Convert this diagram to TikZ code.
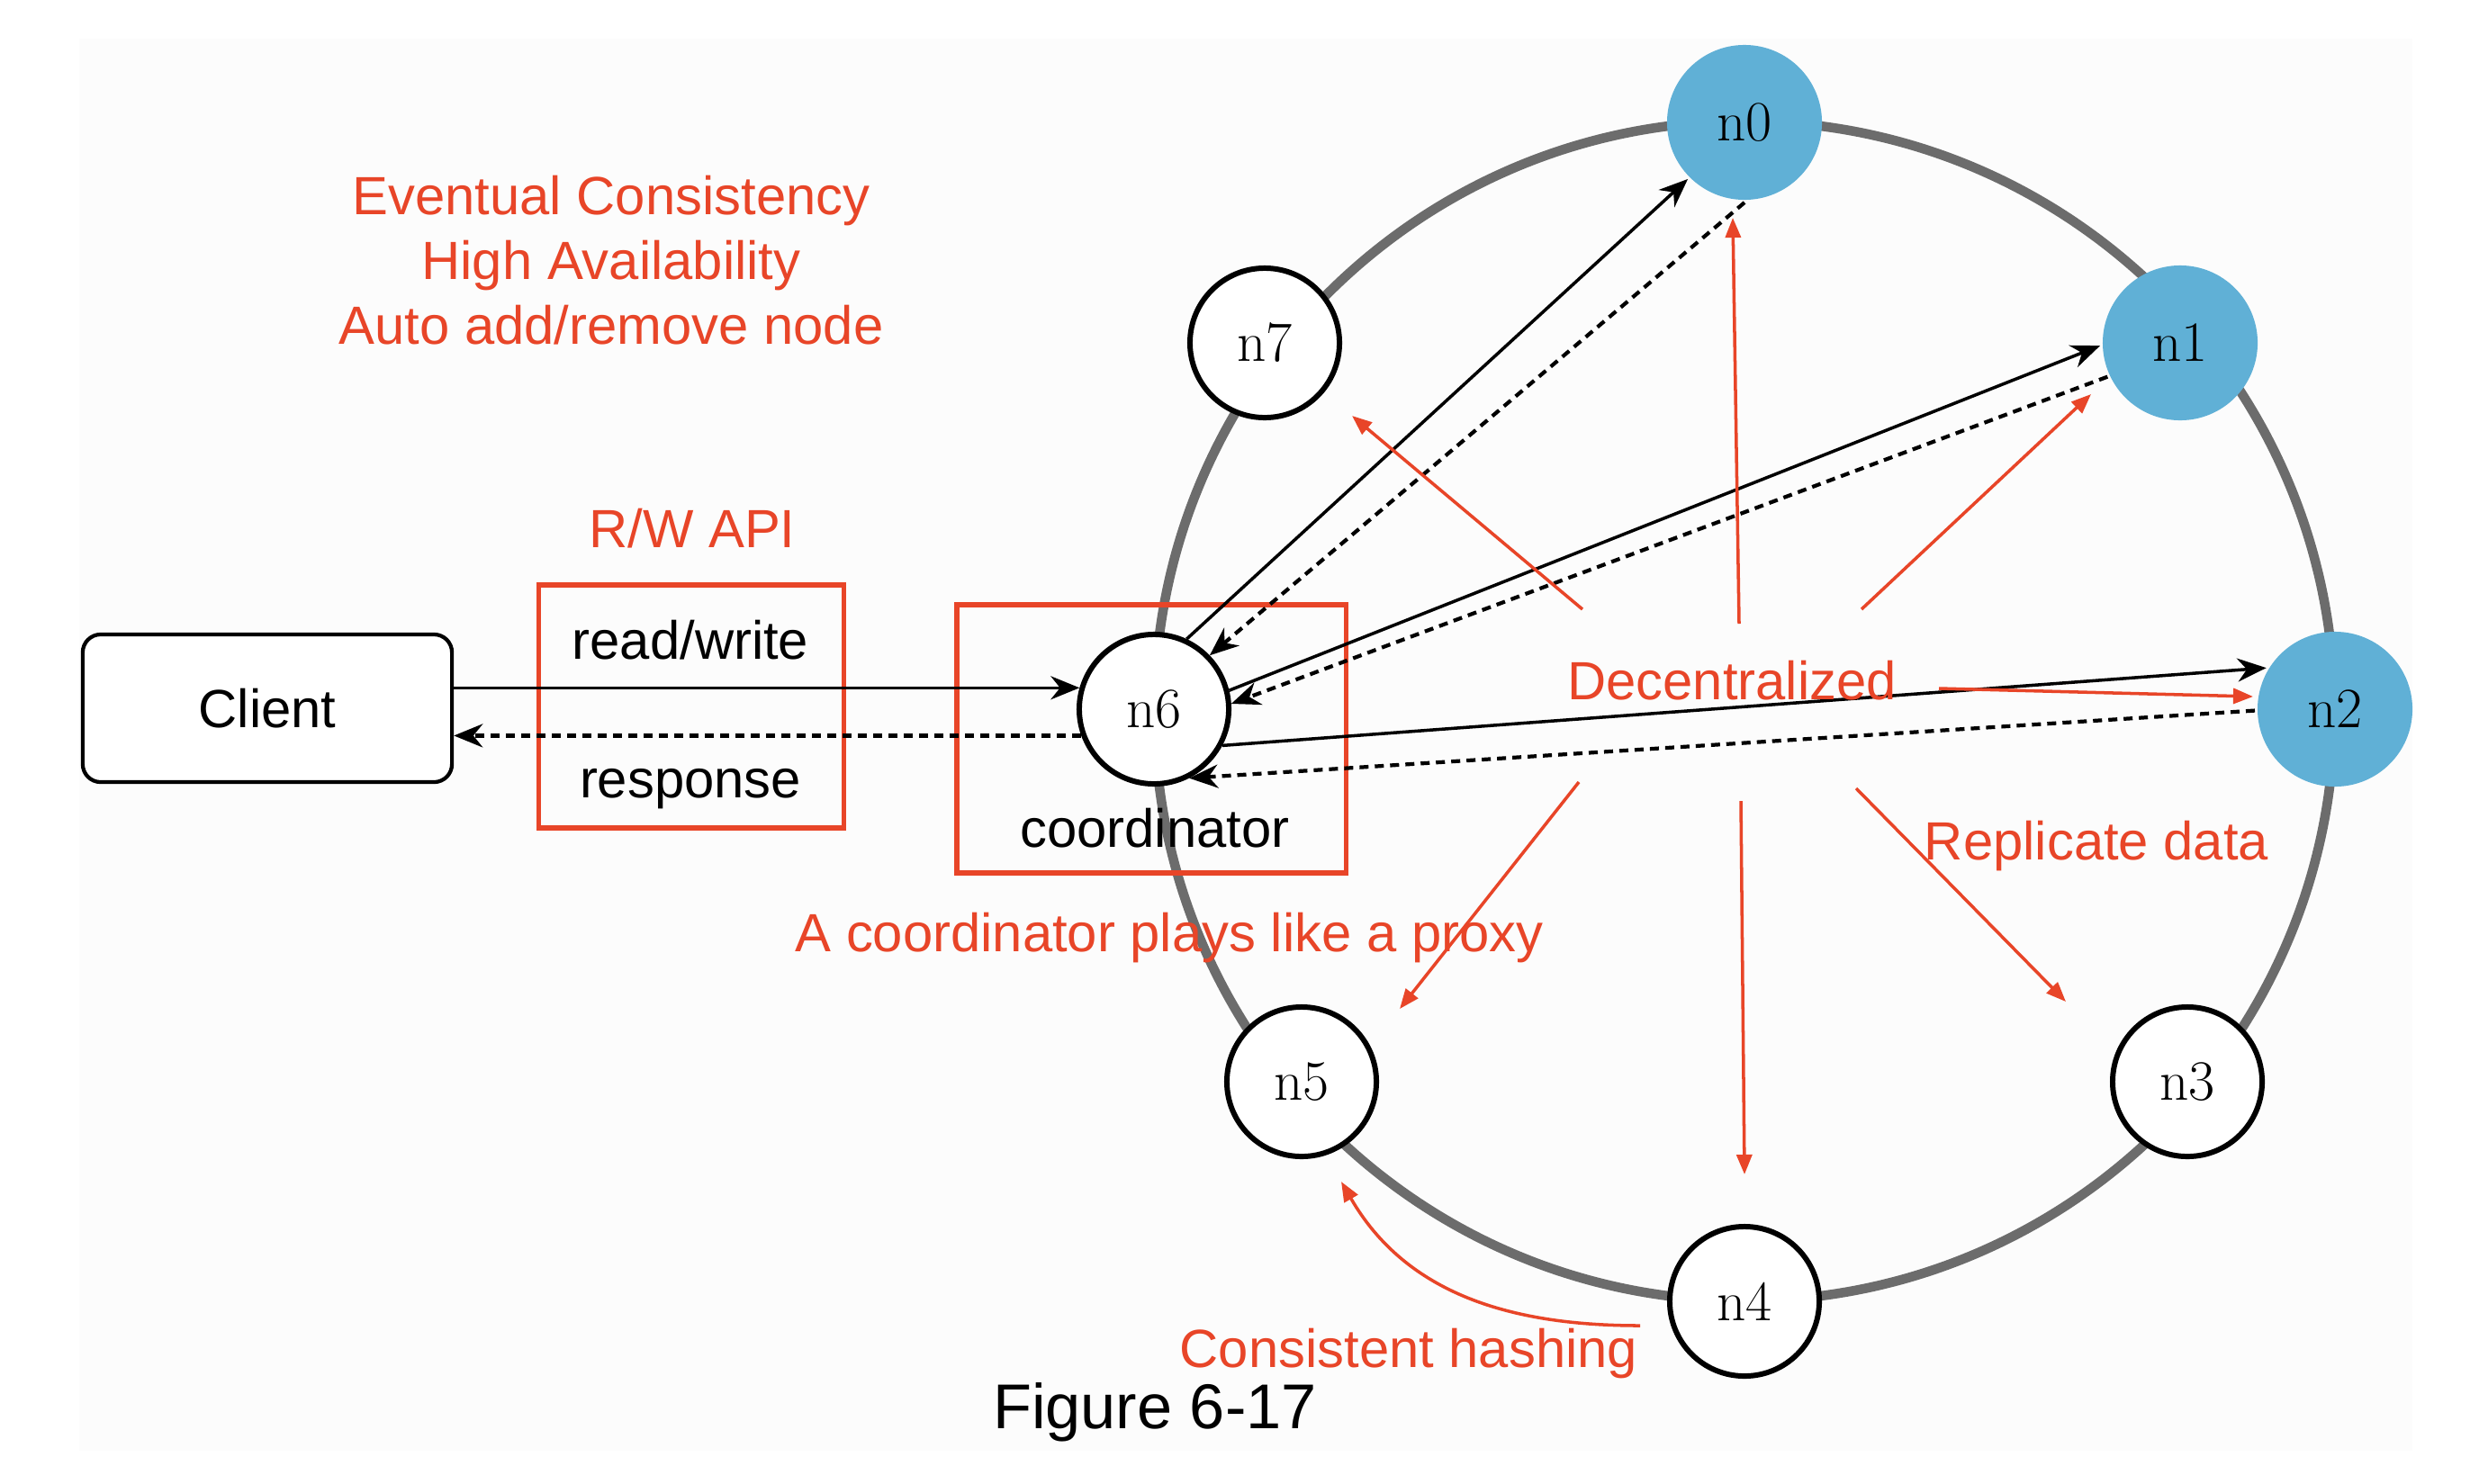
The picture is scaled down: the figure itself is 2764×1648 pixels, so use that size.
\documentclass[tikz,border=0pt]{standalone}
\usepackage{fontspec}
\setsansfont{Liberation Sans}
\usetikzlibrary{positioning,arrows.meta}
\definecolor{notered}{RGB}{232,69,40}
\definecolor{ringgray}{RGB}{108,108,108}
\definecolor{nodeblue}{RGB}{96,176,214}
\definecolor{paneltint}{RGB}{252,252,252}
\tikzset{
  ringnode/.style={circle, draw=black, line width=1.7pt, fill=white, minimum size=1.66cm,
                   inner sep=0pt, font=\rmfamily\fontsize{18}{20}\selectfont},
  hotnode/.style={ringnode, draw=none, fill=nodeblue, minimum size=1.72cm},
  clientbox/.style={draw=black, line width=1.2pt, rounded corners=0.2cm, fill=white,
                    minimum width=4.1cm, minimum height=1.64cm, font=\sffamily\fontsize{17}{20}\selectfont},
  notebox/.style={draw=notered, line width=1.5pt, inner sep=0pt},
  plaintext/.style={font=\sffamily\fontsize{17}{20}\selectfont, inner sep=1pt},
  notetext/.style={text=notered, font=\sffamily\fontsize{17}{20.5}\selectfont, align=center, inner sep=1pt},
  reqarr/.style={-{Stealth[length=0.32cm,width=0.26cm]}, line width=1pt, black},
  resparr/.style={reqarr, dash pattern=on 0.1cm off 0.07cm, line width=1.2pt},
  notearr/.style={-{Triangle[length=0.22cm,width=0.17cm]}, line width=1pt, notered}
}

\begin{document}
\begin{tikzpicture}[x=0.01cm, y=-0.01cm]
  \useasboundingbox (0,0) rectangle (2764,1648);
  \fill[paneltint] (88,43) rectangle (2680,1612);

  % the ring
  \coordinate (ringc) at (1938,790);
  \draw[ringgray, line width=3pt] (ringc) circle[radius=6.55cm];

  \node[hotnode]  (n0) at (1938,136) {n0};
  \node[hotnode]  (n1) at (2422,381) {n1};
  \node[hotnode]  (n2) at (2594,788) {n2};
  \node[ringnode] (n3) at (2430,1202) {n3};
  \node[ringnode] (n4) at (1938,1446) {n4};
  \node[ringnode] (n5) at (1446,1202) {n5};
  \node[ringnode] (n6) at (1282,788) {n6};
  \node[ringnode] (n7) at (1405,381) {n7};

  % client side
  \node[clientbox] (client) at (297,787) {Client};
  \node[notebox, minimum width=3.39cm, minimum height=2.7cm] (apibox) at (768,785) {};
  \node[plaintext] (rw) at (767,711) {read/write};
  \node[plaintext] (resp) at (767,877) {response};
  \node[notebox, minimum width=4.32cm, minimum height=2.98cm] (coordbox) at (1279,821) {};
  \node[plaintext] (coordlbl) at (1283,920) {coordinator};

  \draw[reqarr] (client.east |- n6.164) -- (n6.164);
  \draw[resparr] (n6.200) -- (client.east |- n6.200);

  % requests and replies
  \draw[reqarr] (n6.65) -- (n0.225);
  \draw[resparr] (n0.270) -- (n6.44);
  \draw[reqarr] (n6.14) -- (n1.182);
  \draw[resparr] (n1.205) -- (n6.4);
  \draw[reqarr] (n6.-28) -- (n2.149);
  \draw[resparr] (n2.181) -- (n6.-63);

  % notes
  \node[notetext] (goals) at (679,289) {Eventual Consistency\\High Availability\\Auto add/remove node};
  \node[notetext] (apilbl) at (769,587) {R/W API};
  \node[notetext] (proxylbl) at (1299,1042) {A coordinator plays like a proxy};
  \node[notetext] (dec) at (1924,756) {Decentralized};
  \node[notetext] (repl) at (2329,940) {Replicate data};
  \node[notetext] (hashlbl) at (1565,1504) {Consistent hashing};
  \node[plaintext, font=\sffamily\fontsize{20}{24}\selectfont] (caption) at (1283,1569) {Figure 6-17};

  \coordinate (d7a) at (1758,677);  \coordinate (d7b) at (1502,462);
  \coordinate (d0a) at (1932,693);  \coordinate (d0b) at (1925,242);
  \coordinate (d1a) at (2068,677);  \coordinate (d1b) at (2323,438);
  \coordinate (d2a) at (2154,765);  \coordinate (d2b) at (2503,774);
  \coordinate (d3a) at (2062,876);  \coordinate (d3b) at (2295,1113);
  \coordinate (d4a) at (1934,890);  \coordinate (d4b) at (1938,1305);
  \coordinate (d5a) at (1754,869);  \coordinate (d5b) at (1555,1121);
  \coordinate (hasha) at (1822,1473); \coordinate (hashb) at (1490,1313);

  \draw[notearr] (d7a) -- (d7b);
  \draw[notearr] (d0a) -- (d0b);
  \draw[notearr] (d1a) -- (d1b);
  \draw[notearr] (d2a) -- (d2b);
  \draw[notearr] (d3a) -- (d3b);
  \draw[notearr] (d4a) -- (d4b);
  \draw[notearr] (d5a) -- (d5b);
  \draw[notearr] (hasha) to[out=180, in=-60] (hashb);
\end{tikzpicture}
\end{document}
